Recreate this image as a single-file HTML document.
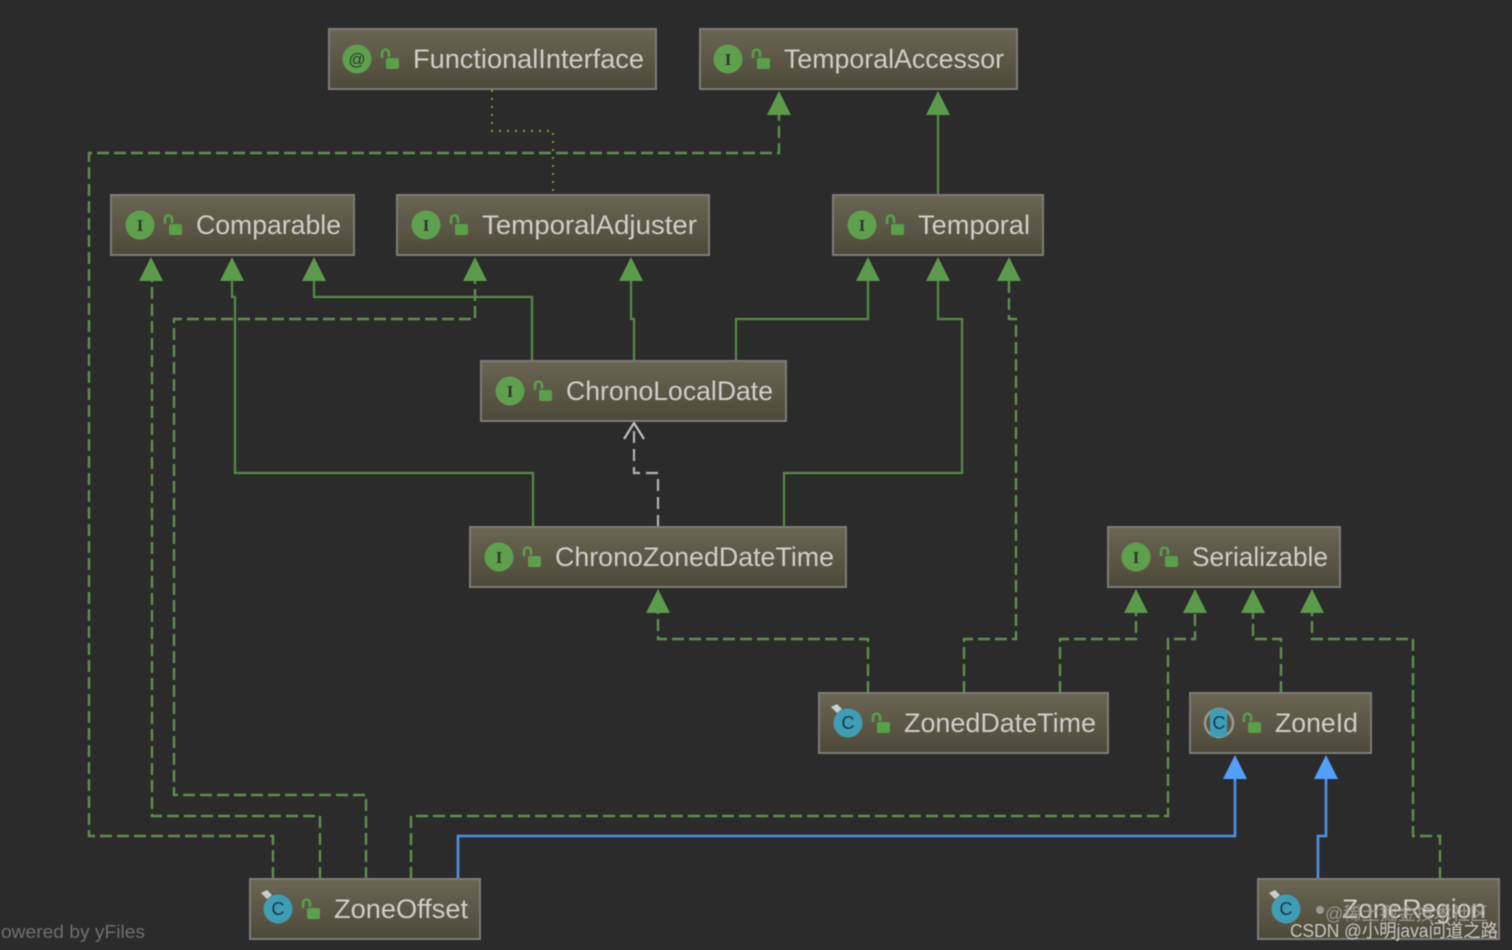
<!DOCTYPE html>
<html><head><meta charset="utf-8">
<style>
html,body{margin:0;padding:0;background:#2b2b2b;width:1512px;height:950px;overflow:hidden}
svg{display:block;filter:blur(.45px)}
.n{fill:url(#g);stroke:#7c7b75;stroke-width:2}
.t{font-family:"Liberation Sans",sans-serif;font-size:27px;fill:#cfcec8}
.ic{fill:#5fa04e}
.cc{fill:#3f9db5}
.it{font-family:"Liberation Serif",serif;font-size:17px;font-weight:bold;fill:#2b3b2b;text-anchor:middle}
.ct{font-family:"Liberation Sans",sans-serif;font-size:18px;fill:#17384d;text-anchor:middle}
.s{fill:none;stroke:#568a47;stroke-width:2.2}
.d{fill:none;stroke:#5f8f4f;stroke-width:2.4;stroke-dasharray:12 5}
.b{fill:none;stroke:#4f92e6;stroke-width:2.6}
.a{fill:#5c9a4c}
.ab{fill:#52a0fa}
</style></head>
<body>
<svg width="1512" height="950" viewBox="0 0 1512 950" xmlns="http://www.w3.org/2000/svg">
<defs>
<linearGradient id="g" x1="0" y1="0" x2="0" y2="1"><stop offset="0" stop-color="#6b6553"/><stop offset=".75" stop-color="#55503f"/><stop offset="1" stop-color="#4c493b"/></linearGradient>
<g id="lock"><path d="M-8 -3v-5a3.5 3.5 0 0 1 7 0v4" fill="none" stroke="#5aa04a" stroke-width="2.6"/><rect x="-4" y="-3" width="13" height="11" rx="2" fill="#5aa04a"/></g>
<g id="cls"><circle r="14.5" class="cc"/><path d="M-17 -16l6 -3 5 5 -5 4z" fill="#c8cfd2"/><text y="6" class="ct">C</text></g>
</defs>
<rect width="1512" height="950" fill="#2b2b2b"/>

<!-- connectors -->
<path d="M492 90V131H553V194" fill="none" stroke="#7f8f1f" stroke-width="2.2" stroke-dasharray="2 6"/>
<path class="d" d="M273 879V836H89V153H779V115"/>
<path class="d" d="M320 879V816H152V281"/>
<path class="d" d="M366 879V795H174V319H475V281"/>
<path class="d" d="M411 879V816H1168V639H1195V613"/>
<path class="d" d="M868 693V639H658V613"/>
<path class="d" d="M964 693V639H1016V319H1009V281"/>
<path class="d" d="M1060 693V639H1136V613"/>
<path class="d" d="M1281 693V639H1253V613"/>
<path class="d" d="M1440 879V836H1413V639H1312V613"/>
<path class="s" d="M938 194V115"/>
<path class="s" d="M533 527V473H235V297H232V281"/>
<path class="s" d="M532 361V297H314V281"/>
<path class="s" d="M634 361V319H631V281"/>
<path class="s" d="M736 361V319H868V281"/>
<path class="s" d="M784 527V473H962V319H938V281"/>
<path class="b" d="M458 879V836H1235V779"/>
<path class="b" d="M1318 879V836H1326V779"/>
<path d="M658 527V473H634V424" fill="none" stroke="#b4b4b0" stroke-width="2.2" stroke-dasharray="12 6"/>
<path d="M624 439L634 423L644 439" fill="none" stroke="#c0c0bc" stroke-width="2.2"/>

<!-- arrowheads -->
<path class="a" d="M779 91L767 115H791Z"/>
<path class="a" d="M938 91L926 115H950Z"/>
<path class="a" d="M151 257L139 281H163Z"/>
<path class="a" d="M232 257L220 281H244Z"/>
<path class="a" d="M314 257L302 281H326Z"/>
<path class="a" d="M475 257L463 281H487Z"/>
<path class="a" d="M631 257L619 281H643Z"/>
<path class="a" d="M868 257L856 281H880Z"/>
<path class="a" d="M938 257L926 281H950Z"/>
<path class="a" d="M1009 257L997 281H1021Z"/>
<path class="a" d="M658 589L646 613H670Z"/>
<path class="a" d="M1136 589L1124 613H1148Z"/>
<path class="a" d="M1195 589L1183 613H1207Z"/>
<path class="a" d="M1253 589L1241 613H1265Z"/>
<path class="a" d="M1312 589L1300 613H1324Z"/>
<path class="ab" d="M1235 755L1223 779H1247Z"/>
<path class="ab" d="M1326 755L1314 779H1338Z"/>

<!-- nodes -->
<rect class="n" x="329" y="29" width="327" height="60"/>
<circle class="ic" cx="357" cy="59" r="14.5"/><text x="357" y="65" class="it" style="font-family:'Liberation Sans',sans-serif;font-weight:normal">@</text>
<use href="#lock" x="390" y="61"/>
<text class="t" x="413" y="68" textLength="231" lengthAdjust="spacingAndGlyphs">FunctionalInterface</text>

<rect class="n" x="700" y="29" width="317" height="60"/>
<circle class="ic" cx="728" cy="59" r="14.5"/><text x="728" y="65" class="it">I</text>
<use href="#lock" x="761" y="61"/>
<text class="t" x="784" y="68" textLength="220" lengthAdjust="spacingAndGlyphs">TemporalAccessor</text>

<rect class="n" x="111" y="195" width="243" height="60"/>
<circle class="ic" cx="140" cy="225" r="14.5"/><text x="140" y="231" class="it">I</text>
<use href="#lock" x="173" y="227"/>
<text class="t" x="196" y="234" textLength="145" lengthAdjust="spacingAndGlyphs">Comparable</text>

<rect class="n" x="397" y="195" width="312" height="60"/>
<circle class="ic" cx="426" cy="225" r="14.5"/><text x="426" y="231" class="it">I</text>
<use href="#lock" x="459" y="227"/>
<text class="t" x="482" y="234" textLength="215" lengthAdjust="spacingAndGlyphs">TemporalAdjuster</text>

<rect class="n" x="833" y="195" width="210" height="60"/>
<circle class="ic" cx="862" cy="225" r="14.5"/><text x="862" y="231" class="it">I</text>
<use href="#lock" x="895" y="227"/>
<text class="t" x="918" y="234" textLength="112" lengthAdjust="spacingAndGlyphs">Temporal</text>

<rect class="n" x="481" y="361" width="305" height="60"/>
<circle class="ic" cx="510" cy="391" r="14.5"/><text x="510" y="397" class="it">I</text>
<use href="#lock" x="543" y="393"/>
<text class="t" x="566" y="400" textLength="207" lengthAdjust="spacingAndGlyphs">ChronoLocalDate</text>

<rect class="n" x="470" y="527" width="376" height="60"/>
<circle class="ic" cx="499" cy="557" r="14.5"/><text x="499" y="563" class="it">I</text>
<use href="#lock" x="532" y="559"/>
<text class="t" x="555" y="566" textLength="279" lengthAdjust="spacingAndGlyphs">ChronoZonedDateTime</text>

<rect class="n" x="1108" y="527" width="232" height="60"/>
<circle class="ic" cx="1136" cy="557" r="14.5"/><text x="1136" y="563" class="it">I</text>
<use href="#lock" x="1169" y="559"/>
<text class="t" x="1192" y="566" textLength="136" lengthAdjust="spacingAndGlyphs">Serializable</text>

<rect class="n" x="819" y="693" width="289" height="60"/>
<use href="#cls" x="848" y="723"/>
<use href="#lock" x="881" y="725"/>
<text class="t" x="904" y="732" textLength="192" lengthAdjust="spacingAndGlyphs">ZonedDateTime</text>

<rect class="n" x="1190" y="693" width="181" height="60"/>
<circle cx="1219" cy="723" r="14" fill="none" stroke="#9a9a94" stroke-width="2.5"/>
<rect x="1210" y="709" width="17" height="28" rx="3" class="cc"/><text x="1219" y="729" class="ct">C</text>
<use href="#lock" x="1252" y="725"/>
<text class="t" x="1275" y="732" textLength="83" lengthAdjust="spacingAndGlyphs">ZoneId</text>

<rect class="n" x="250" y="879" width="230" height="60"/>
<use href="#cls" x="278" y="909"/>
<use href="#lock" x="311" y="911"/>
<text class="t" x="334" y="918" textLength="134" lengthAdjust="spacingAndGlyphs">ZoneOffset</text>

<rect class="n" x="1258" y="879" width="241" height="60"/>
<use href="#cls" x="1286" y="909"/>
<circle cx="1320" cy="910" r="4" fill="#9a9a94"/>
<text class="t" x="1342" y="918" textLength="144" lengthAdjust="spacingAndGlyphs">ZoneRegion</text>

<!-- overlays -->
<text x="1325" y="920" font-family="'Liberation Sans','Noto Sans CJK SC',sans-serif" font-size="18" fill="#a09e96" fill-opacity=".9" textLength="163" lengthAdjust="spacingAndGlyphs">@稀土掘金技术社区</text>
<text x="1290" y="937" font-family="'Liberation Sans','Noto Sans CJK SC',sans-serif" font-size="18" fill="#c8c8c4" textLength="208" lengthAdjust="spacingAndGlyphs">CSDN @小明java问道之路</text>
<text x="1" y="938" font-family="'Liberation Sans',sans-serif" font-size="18.5" fill="#6f6f6f" textLength="144" lengthAdjust="spacingAndGlyphs">owered by yFiles</text>
</svg>
</body></html>
